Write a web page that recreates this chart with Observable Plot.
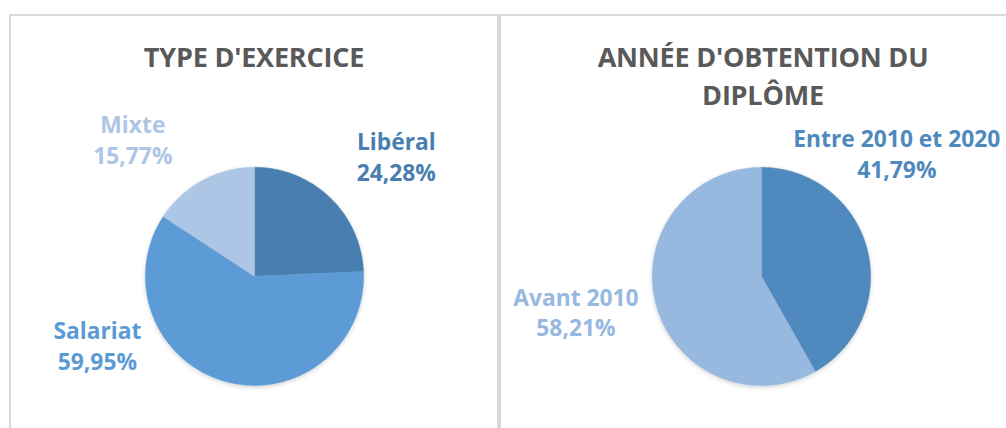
<!DOCTYPE html>
<html>
<head>
<meta charset="utf-8">
<script src="https://cdn.jsdelivr.net/npm/d3@7"></script>
<script src="https://cdn.jsdelivr.net/npm/@observablehq/plot@0.6"></script>
<style>
  html, body { margin: 0; padding: 0; background: #fff; }
  body { width: 1006px; height: 428px; position: relative; overflow: hidden; font-family: "Open Sans", sans-serif; }
  .panel { position: absolute; top: 14px; height: 430px; border: 2px solid #d9d9d9; box-sizing: border-box; background: #fff; }
  .title { position: absolute; left: 0; right: 0; text-align: center; font-weight: 700; color: #595959; font-size: 27px; line-height: 38px; letter-spacing: -0.2px; }
  .panel svg { position: absolute; left: 0; top: 0; overflow: visible; }
</style>
</head>
<body>
<div id="p1" class="panel" style="left:9px; width:490px;"><div class="title" style="top:22px;">TYPE D'EXERCICE</div></div>
<div id="p2" class="panel" style="left:499px; width:520px;"><div class="title" style="top:22px; width:524px; left:0;">ANNÉE D'OBTENTION DU<br>DIPLÔME</div></div>
<script>
// ---- Data ----
const typeCategories = ["Libéral", "Salariat", "Mixte"];
const typeValues = [24.28, 59.95, 15.77];
const typeColors = ["#4A7EB0", "#5B9BD5", "#ADC6E5"];

const anneeCategories = ["Entre 2010 et 2020", "Avant 2010"];
const anneeValues = [41.79, 58.21];
const anneeColors = ["#4F89BD", "#97B8DF"];

// ---- Layout (label anchors in pie-radius units, not data) ----
const typeLabelPos = [[1.30, 1.08], [-1.44, -0.65], [-1.115, 1.24]];
const anneeLabelPos = [[1.24, 1.11], [-1.70, -0.34]];

const fmt = v => v.toFixed(2).replace(".", ",") + "%";

function pieSlices(cats, vals) {
  const total = d3.sum(vals);
  const pts = [];
  let start = 0;
  cats.forEach((c, i) => {
    const a0 = start, a1 = start + vals[i] / total * 2 * Math.PI;
    start = a1;
    pts.push({slice: c, x: 0, y: 0});
    const n = Math.max(2, Math.ceil((a1 - a0) / (Math.PI / 180)));
    for (let k = 0; k <= n; k++) {
      const a = a0 + (a1 - a0) * k / n;
      pts.push({slice: c, x: Math.sin(a), y: Math.cos(a)});
    }
    pts.push({slice: c, x: 0, y: 0});
  });
  return pts;
}

function makePie(el, cats, vals, colors, labelPos, cx, cy, r, w, h) {
  const pts = pieSlices(cats, vals);
  const labels = cats.map((c, i) => ({c, v: vals[i], x: labelPos[i][0], y: labelPos[i][1]}));
  const plot = Plot.plot({
    width: w, height: h,
    margin: 0,
    x: {domain: [-1, 1], range: [cx - r, cx + r], axis: null},
    y: {domain: [-1, 1], range: [cy + r, cy - r], axis: null},
    color: {domain: cats, range: colors},
    style: {background: "transparent", overflow: "visible"},
    marks: [
      Plot.line(pts, {x: "x", y: "y", z: "slice", fill: "slice", stroke: "slice", strokeWidth: 0.5, curve: "linear"}),
      Plot.text(labels, {x: "x", y: "y", text: d => d.c, fill: d => d.c, fontSize: 23, fontWeight: 700, fontFamily: "Open Sans", dy: -15.5}),
      Plot.text(labels, {x: "x", y: "y", text: d => fmt(d.v), fill: d => d.c, fontSize: 23, fontWeight: 700, fontFamily: "Open Sans", dy: 15.5})
    ]
  });
  // soft shadow under the pie
  const svg = d3.select(plot);
  const id = "sh" + Math.random().toString(36).slice(2);
  const defs = svg.insert("defs", ":first-child");
  const f = defs.append("filter").attr("id", id).attr("x", "-20%").attr("y", "-20%").attr("width", "140%").attr("height", "140%");
  f.append("feDropShadow").attr("dx", 0).attr("dy", 1.5).attr("stdDeviation", 2).attr("flood-color", "#000").attr("flood-opacity", 0.18);
  svg.select("g[aria-label='line']").attr("filter", `url(#${id})`);
  el.appendChild(plot);
}

makePie(document.getElementById("p1"), typeCategories, typeValues, typeColors, typeLabelPos, 245, 262, 110, 490, 414);
makePie(document.getElementById("p2"), anneeCategories, anneeValues, anneeColors, anneeLabelPos, 262, 262, 110, 520, 414);
</script>
</body>
</html>
